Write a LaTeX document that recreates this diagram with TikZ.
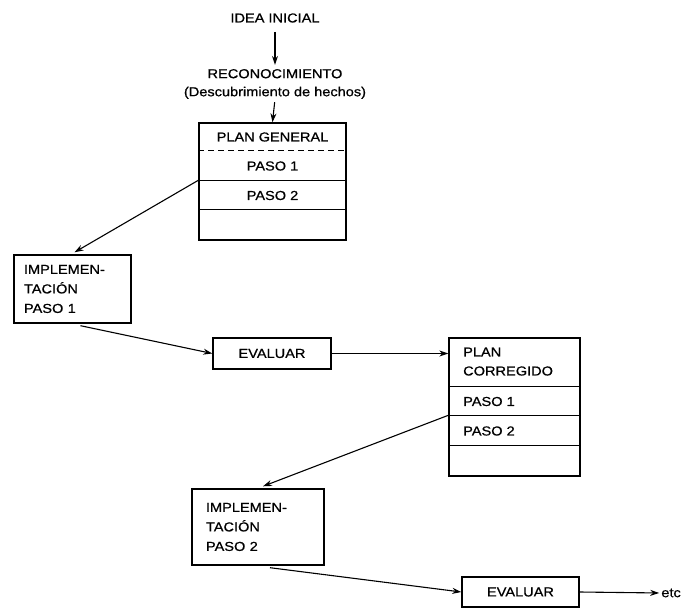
\documentclass[tikz,border=0pt]{standalone}
\usepackage{fontspec}
\setmainfont{Liberation Sans}[FakeStretch=1.12,FakeBold=0.7]
\usetikzlibrary{arrows.meta,calc}
\begin{document}
\begin{tikzpicture}[x=1pt,y=-1pt,
  box/.style={draw,line width=1.4pt,rectangle,inner sep=0pt},
  lbl/.style={font=\fontsize{13}{19.5}\selectfont,inner sep=0pt},
  divider/.style={line width=1.1pt},
  arr/.style={-{Stealth[length=9pt,width=6pt]},line width=1.1pt}]
\useasboundingbox (0,0) rectangle (681,608);
% top texts
\node[lbl] (idea) at (275,18) {IDEA INICIAL};
\node[lbl,align=center,font=\fontsize{13}{18}\selectfont] (recon) at (275,84) {RECONOCIMIENTO\\(Descubrimiento de hechos)};
% plan general
\node[box,minimum width=147pt,minimum height=117pt] (pg) at (272.5,181.5) {};
\draw[divider,dash pattern=on 6pt off 4pt] ([yshift=-28pt]pg.north west) -- ([yshift=-28pt]pg.north east);
\draw[divider] ([yshift=-58pt]pg.north west) -- ([yshift=-58pt]pg.north east);
\draw[divider] ([yshift=-87pt]pg.north west) -- ([yshift=-87pt]pg.north east);
\node[lbl] (pgt) at (272.5,137) {PLAN GENERAL};
\node[lbl] (pg1) at (272.5,166) {PASO 1};
\node[lbl] (pg2) at (272.5,195.5) {PASO 2};
% implementation 1
\node[box,minimum width=117pt,minimum height=68pt,text width=97pt,align=left,font=\fontsize{13}{19.5}\selectfont] (impl1) at (72.5,289) {IMPLEMEN-\\TACIÓN\\PASO 1};
% evaluar 1
\node[box,minimum width=118pt,minimum height=31pt,font=\fontsize{13}{15}\selectfont] (ev1) at (272,353.5) {EVALUAR};
% plan corregido
\node[box,minimum width=131pt,minimum height=138pt] (pc) at (514.5,407) {};
\draw[divider] ([yshift=-49pt]pc.north west) -- ([yshift=-49pt]pc.north east);
\draw[divider] ([yshift=-78pt]pc.north west) -- ([yshift=-78pt]pc.north east);
\draw[divider] ([yshift=-108pt]pc.north west) -- ([yshift=-108pt]pc.north east);
\node[lbl,anchor=west] (pct1) at (463,352) {PLAN};
\node[lbl,anchor=west] (pct2) at (463,371) {CORREGIDO};
\node[lbl,anchor=west] (pc1) at (463,401.5) {PASO 1};
\node[lbl,anchor=west] (pc2) at (463,431) {PASO 2};
% implementation 2
\node[box,minimum width=132pt,minimum height=76pt,text width=104pt,align=left,font=\fontsize{13}{19.5}\selectfont] (impl2) at (258,527) {IMPLEMEN-\\TACIÓN\\PASO 2};
% evaluar 2
\node[box,minimum width=117pt,minimum height=30pt,font=\fontsize{13}{15}\selectfont] (ev2) at (520.5,592) {EVALUAR};
\node[lbl,anchor=east] (etc) at (681,593) {etc};
% connectors
\draw[arr,shorten <=9pt,shorten >=4pt] (idea.south) -- (recon.north);
\draw[arr,shorten <=3pt] (recon.south) -- (pg.north);
\draw[arr] ([yshift=-58pt]pg.north west) -- ([xshift=2pt,yshift=2pt]impl1.north);
\draw[arr] ([xshift=8pt,yshift=-2pt]impl1.south) -- (ev1.west);
\draw[arr] (ev1.east) -- (pc.west |- ev1.east);
\draw[arr] ([yshift=-78pt]pc.north west) -- ([xshift=5pt,yshift=2pt]impl2.north);
\draw[arr] ([xshift=12pt,yshift=-2pt]impl2.south) -- (ev2.west);
\draw[arr,shorten >=2pt] (ev2.east) -- (etc.west);
\end{tikzpicture}
\end{document}
